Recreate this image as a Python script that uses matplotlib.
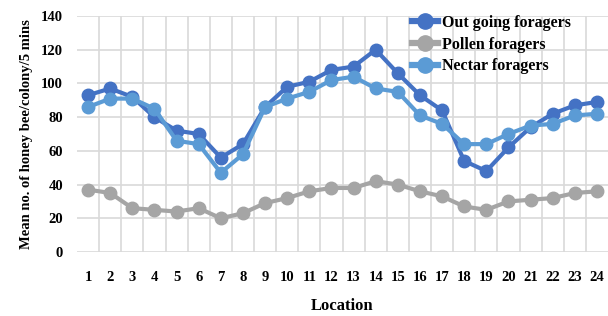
import matplotlib
matplotlib.use("Agg")
import matplotlib.pyplot as plt
import numpy as np

locations = list(range(1, 25))
outgoing = [93, 97, 92, 80, 72, 70, 56, 64, 86, 98, 101, 108, 110, 120, 106, 93, 84, 54, 48, 62, 74, 82, 87, 89]
pollen = [37, 35, 26, 25, 24, 26, 20, 23, 29, 32, 36, 38, 38, 42, 40, 36, 33, 27, 25, 30, 31, 32, 35, 36]
nectar = [86, 91, 91, 85, 66, 64, 47, 58, 86, 91, 95, 102, 104, 97, 95, 81, 76, 64, 64, 70, 75, 76, 81, 82]
series_names = ["Out going foragers", "Pollen foragers", "Nectar foragers"]
colors = ["#4472C4", "#A5A5A5", "#5B9BD5"]

plt.rcParams['font.family'] = ['Liberation Serif', 'DejaVu Serif']
plt.rcParams['font.weight'] = 'bold'

fig = plt.figure(figsize=(6.08, 3.16), dpi=100)
ax = fig.add_axes([77/608, 1-252/316, 1-77/608, (252-16)/316])

for vals, name, c in zip([outgoing, pollen, nectar], series_names, colors):
    ax.plot(locations, vals, color=c, lw=3, marker='o', markersize=9, label=name, zorder=3)

ax.set_xlim(0.5, 24.5)
ax.set_ylim(0, 140)
ax.set_yticks(range(0, 141, 20))
ax.set_xticks(locations)
ax.set_xticks(np.arange(1.5, 24, 1), minor=True)
ax.grid(True, which='major', axis='y', color='#D9D9D9', lw=1.2)
ax.grid(True, which='minor', axis='x', color='#D9D9D9', lw=1.2)
ax.tick_params(axis='both', which='both', length=0, labelsize=10.5)
ax.tick_params(axis='x', pad=14)
ax.tick_params(axis='y', pad=10)
for s in ax.spines.values():
    s.set_visible(False)
for lab in ax.get_xticklabels() + ax.get_yticklabels():
    lab.set_fontweight('bold')

ax.set_ylabel("Mean no. of honey bee/colony/5 mins", fontsize=10.5, fontweight='bold', labelpad=6)
ax.set_xlabel("Location", fontsize=12, fontweight='bold', labelpad=10)

leg = ax.legend(loc='upper left', bbox_to_anchor=(412/608, 1 - 15/316), bbox_transform=fig.transFigure,
                frameon=False, prop={'weight': 'bold', 'size': 11.5}, handlelength=1.6,
                handletextpad=0.3, labelspacing=0.35, borderaxespad=0, borderpad=0)
for h in leg.legend_handles:
    h.set_linewidth(4.5)
    h.set_markersize(11)
fig.savefig("out.png", dpi=100)
